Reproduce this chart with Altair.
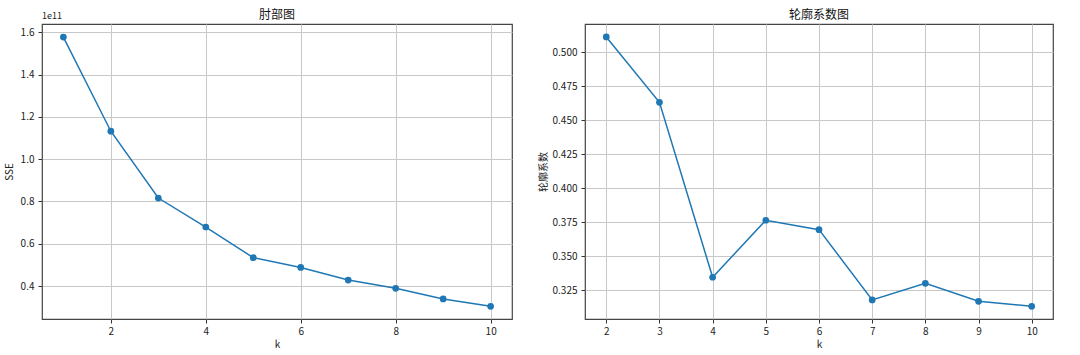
import altair as alt
import pandas as pd

k_sse = [1, 2, 3, 4, 5, 6, 7, 8, 9, 10]
sse = [1.577e11, 1.132e11, 0.816e11, 0.679e11, 0.534e11, 0.488e11, 0.428e11, 0.389e11, 0.339e11, 0.304e11]
k_sil = [2, 3, 4, 5, 6, 7, 8, 9, 10]
sil = [0.5113, 0.4632, 0.3346, 0.3765, 0.3696, 0.3179, 0.3301, 0.3169, 0.3132]

sse_ticks = [0.4e11, 0.6e11, 0.8e11, 1.0e11, 1.2e11, 1.4e11, 1.6e11]
sil_ticks = [0.325, 0.35, 0.375, 0.4, 0.425, 0.45, 0.475, 0.5]

FONT = "Noto Sans CJK SC"
BLUE = "#1f77b4"

df1 = pd.DataFrame({"k": k_sse, "v": sse})
df2 = pd.DataFrame({"k": k_sil, "v": sil})

def axis_common(**kw):
    base = dict(grid=True, gridColor="#c8c8c8", gridWidth=1, tickColor="#333", tickSize=4,
                domain=False, labelFont=FONT, labelFontSize=10, labelColor="#222",
                titleFont=FONT, titleFontSize=10, titleFontWeight="normal", titleColor="#222")
    base.update(kw)
    return alt.Axis(**base)

W, H = 470, 295

x1 = alt.X("k:Q", scale=alt.Scale(domain=[0.55, 10.45], nice=False, zero=False),
           axis=axis_common(values=[2, 4, 6, 8, 10], title="k", labelPadding=3, titlePadding=3))
y1 = alt.Y("v:Q", scale=alt.Scale(domain=[0.244e11, 1.639e11], nice=False, zero=False),
           axis=axis_common(values=sse_ticks, title="SSE", labelExpr="format(datum.value/1e11, '.1f')",
                            labelPadding=4, titlePadding=6))
line1 = alt.Chart(df1).mark_line(color=BLUE, strokeWidth=1.5).encode(x=x1, y=y1)
pts1 = alt.Chart(df1).mark_point(color=BLUE, filled=True, opacity=1, size=45).encode(x="k:Q", y="v:Q")
off = alt.Chart(pd.DataFrame({"t": ["1e11"]})).mark_text(font=FONT, fontSize=9, align="left", baseline="bottom", color="#222").encode(
    x=alt.value(0), y=alt.value(-3), text="t:N")
left = alt.layer(line1, pts1, off).properties(
    width=W, height=H,
    title=alt.TitleParams("肘部图", font=FONT, fontSize=12, fontWeight="normal", offset=-10, color="#111"))

x2 = alt.X("k:Q", scale=alt.Scale(domain=[1.6, 10.4], nice=False, zero=False),
           axis=axis_common(values=list(range(2, 11)), title="k", labelPadding=3, titlePadding=3))
y2 = alt.Y("v:Q", scale=alt.Scale(domain=[0.3039, 0.5208], nice=False, zero=False),
           axis=axis_common(values=sil_ticks, format=".3f", title="轮廓系数", labelPadding=4, titlePadding=4))
line2 = alt.Chart(df2).mark_line(color=BLUE, strokeWidth=1.5).encode(x=x2, y=y2)
pts2 = alt.Chart(df2).mark_point(color=BLUE, filled=True, opacity=1, size=45).encode(x="k:Q", y="v:Q")
right = alt.layer(line2, pts2).properties(
    width=468, height=H,
    title=alt.TitleParams("轮廓系数图", font=FONT, fontSize=12, fontWeight="normal", offset=2, color="#111"))

chart = alt.hconcat(left, right, spacing=73, bounds="flush").properties(
    padding={"left": 3, "top": 8, "right": 25, "bottom": 5}, background="white"
).configure_view(stroke="#444", strokeWidth=1.2)

chart.save("out.html", embed_options={"renderer": "svg", "actions": False})
